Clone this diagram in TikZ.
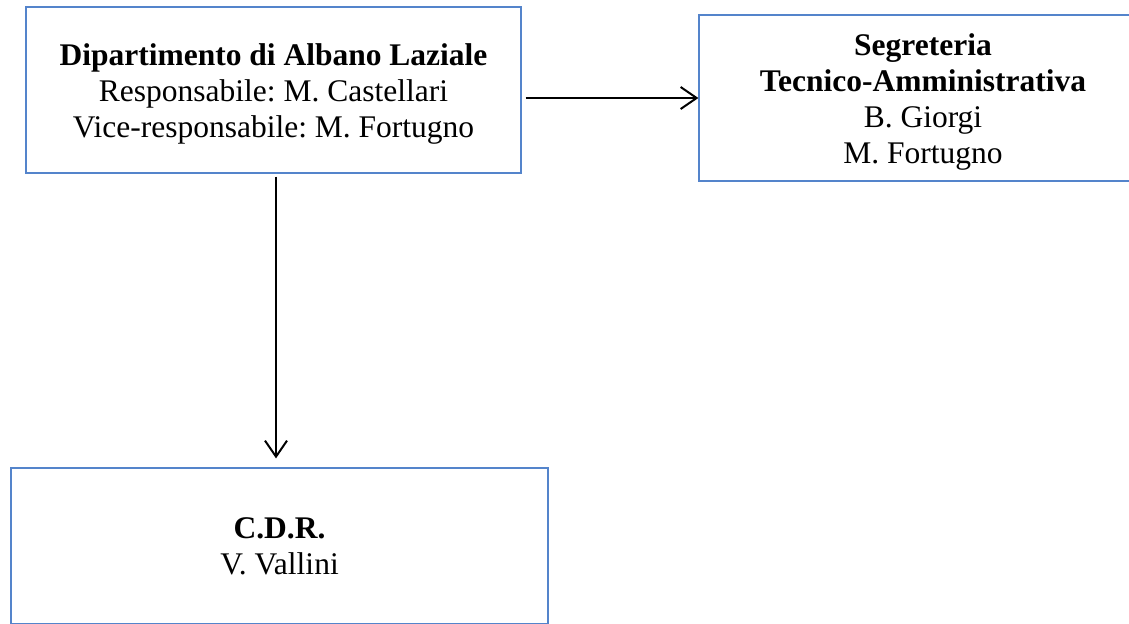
\documentclass[tikz,border=0pt]{standalone}
\usepackage{fontspec}
\setmainfont{Liberation Serif}
\usetikzlibrary{arrows.meta}
\definecolor{boxblue}{RGB}{84,132,203}
\newcommand{\toppad}{\rule{0pt}{15pt}}
\frenchspacing
\begin{document}
\begin{tikzpicture}[x=.5pt, y=-.5pt, >={Straight Barb[length=8pt,width=11pt]},
		box/.style={draw=boxblue, line width=.6pt, inner sep=0pt, align=center, font=\fontsize{15.75}{18}\selectfont},
		link/.style={->, line width=1pt}]
		\useasboundingbox (0,0) rectangle (1129,623);
		\clip (0,0) rectangle (1129,623);
		\node[box, minimum width=247.5pt, minimum height=83pt] (dip) at (273.5,90) {\toppad\textbf{Dipartimento di Albano Laziale}\\Responsabile: M. Castellari\\Vice-responsabile: M. Fortugno};
		\node[box, minimum width=224pt, minimum height=83pt] (seg) at (923,98) {\toppad\textbf{Segreteria}\\\textbf{Tecnico-Amministrativa}\\B. Giorgi\\M. Fortugno};
		\node[box, minimum width=268.5pt, minimum height=78pt] (cdr) at (279.5,546) {\textbf{C.D.R.}\\V. Vallini};
		\draw[link] ([xshift=2pt]dip.east |- seg.west) -- (seg.west);
		\draw[link, shorten <=1.5pt, shorten >=4.5pt] ([xshift=1.25pt]dip.south) -- ([xshift=1.25pt]dip.south |- cdr.north);
	\end{tikzpicture}
\end{document}
